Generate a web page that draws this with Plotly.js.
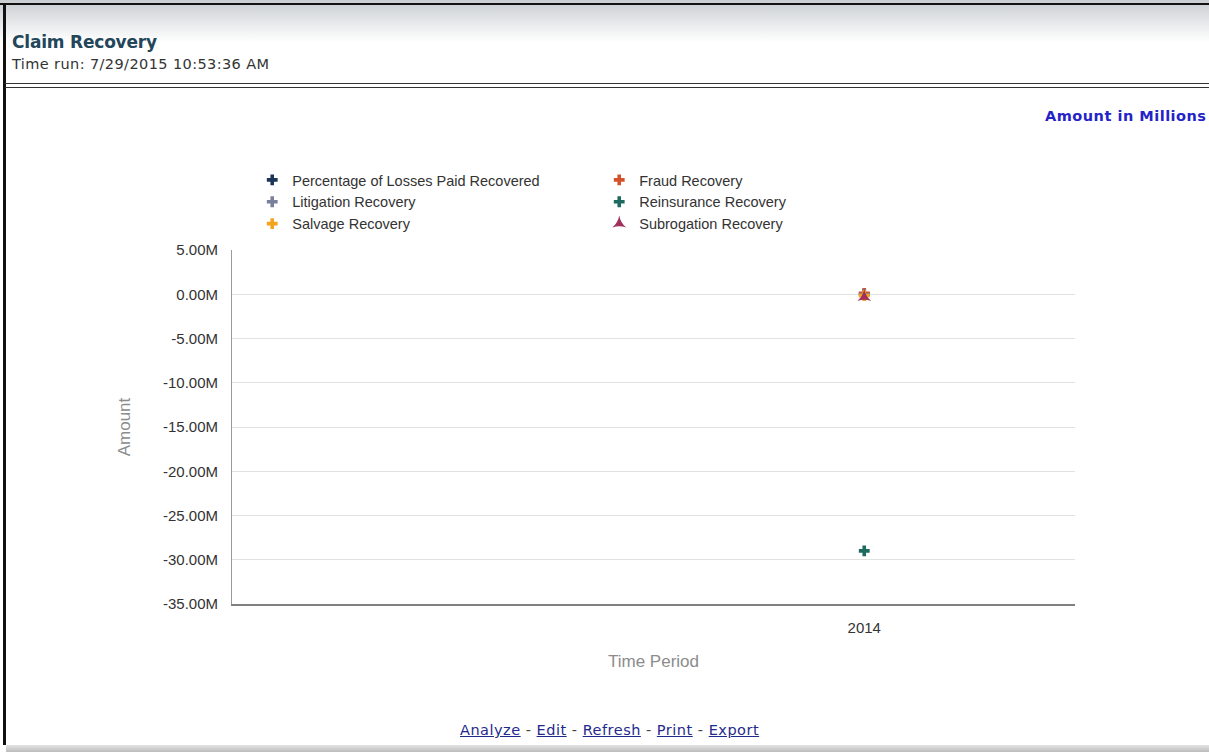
<!DOCTYPE html>
<html>
<head>
<meta charset="utf-8">
<script src="https://cdn.plot.ly/plotly-3.0.1.min.js"></script>
<style>
  html, body { margin:0; padding:0; background:#fff; width:1209px; height:752px; overflow:hidden; }
  #page { position:relative; width:1209px; height:752px; }
  #hdrgrad { position:absolute; left:0; top:0; width:1209px; height:42px; background:linear-gradient(#c9cdd1, #ffffff); }
  #topline { position:absolute; left:0; top:3px; width:1209px; height:2px; background:#111; }
  #leftline { position:absolute; left:3px; top:3px; width:3px; height:742px; background:#111; }
  #title { position:absolute; left:12px; top:32px; font-family:"DejaVu Sans", sans-serif; font-weight:bold; font-size:17px; color:#23465a; letter-spacing:-0.2px; }
  #timerun { position:absolute; left:12px; top:56px; font-family:"DejaVu Sans", sans-serif; font-size:14.5px; color:#333; letter-spacing:0.4px; }
  #dbl1 { position:absolute; left:5px; top:83px; width:1204px; height:1px; background:#333; }
  #dbl2 { position:absolute; left:5px; top:87px; width:1204px; height:1px; background:#333; }
  #units { position:absolute; left:1045px; top:108px; font-family:"DejaVu Sans", sans-serif; font-weight:bold; font-size:14.5px; color:#2323c8; white-space:nowrap; letter-spacing:0.5px; }
  #links { position:absolute; left:460px; top:722px; font-family:"DejaVu Sans", sans-serif; font-size:14.5px; color:#444; white-space:nowrap; letter-spacing:0.5px; }
  #links a { color:#1f2a8c; text-decoration:underline; }
  #footbar { position:absolute; left:6px; top:745px; width:1203px; height:7px; background:linear-gradient(#e4e4e4, #bcbcbc); }
  #chart { position:absolute; left:0; top:0; width:1209px; height:752px; }
</style>
</head>
<body>
<div id="page">
  <div id="hdrgrad"></div>
  <div id="topline"></div>
  <div id="leftline"></div>
  <div id="title">Claim Recovery</div>
  <div id="timerun">Time run: 7/29/2015 10:53:36 AM</div>
  <div id="dbl1"></div>
  <div id="dbl2"></div>
  <div id="chart"></div>
  <div id="units">Amount in Millions</div>
  <div id="links"><a>Analyze</a> - <a>Edit</a> - <a>Refresh</a> - <a>Print</a> - <a>Export</a></div>
  <div id="footbar"></div>
</div>
<script>
// ---- data (values in millions) ----
const periods = ["2014"];
const pctLossesPaidRecovered = [0.05];
const fraudRecovery = [0.1];
const litigationRecovery = [-0.05];
const reinsuranceRecovery = [-29.0];
const salvageRecovery = [-0.15];
const subrogationRecovery = [-0.3];

const yTickVals = [5, 0, -5, -10, -15, -20, -25, -30, -35];
const yTickLabels = ["5.00M", "0.00M", "-5.00M", "-10.00M", "-15.00M", "-20.00M", "-25.00M", "-30.00M", "-35.00M"];

const FONT = "Liberation Sans, Arial, sans-serif";

function series(name, ys, color, symbol, size) {
  return {
    type: "scatter", mode: "markers", name: name,
    x: periods, y: ys,
    marker: { color: color, symbol: symbol, size: size, line: { width: 0 } }
  };
}

const traces = [
  series("Percentage of Losses Paid Recovered", pctLossesPaidRecovered, "#1c3557", "cross", 9),
  series("Fraud Recovery", fraudRecovery, "#d4522a", "cross", 9),
  series("Litigation Recovery", litigationRecovery, "#7a7f9e", "cross", 9),
  series("Reinsurance Recovery", reinsuranceRecovery, "#1d6b60", "cross", 9),
  series("Salvage Recovery", salvageRecovery, "#f3a41c", "cross", 9),
  series("Subrogation Recovery", subrogationRecovery, "#a0305c", "star-triangle-up", 10)
];

const layout = {
  width: 1209, height: 752,
  margin: { l: 232, r: 134, t: 250, b: 148 },
  paper_bgcolor: "rgba(0,0,0,0)",
  plot_bgcolor: "rgba(0,0,0,0)",
  font: { family: FONT, color: "#333" },
  showlegend: true,
  legend: {
    orientation: "h",
    x: 0.024, xanchor: "left",
    y: 1.243, yanchor: "top",
    entrywidth: 302, entrywidthmode: "pixels",
    itemwidth: 30,
    tracegroupgap: 0,
    font: { family: FONT, size: 14.5, color: "#333" },
    bgcolor: "rgba(0,0,0,0)"
  },
  xaxis: {
    type: "category",
    range: [-1.5, 0.5],
    showgrid: false,
    zeroline: false,
    showline: true, linecolor: "#808080", linewidth: 1.5,
    ticks: "", ticklabelstandoff: 9,
    tickfont: { family: FONT, size: 15, color: "#333" },
    title: { text: "Time Period", font: { family: FONT, size: 17, color: "#8c8c8c" }, standoff: 20 },
    fixedrange: true
  },
  yaxis: {
    range: [-35, 5],
    tickvals: yTickVals,
    ticktext: yTickLabels,
    showgrid: true, gridcolor: "#e1e1e1", gridwidth: 1,
    zeroline: false,
    showline: true, linecolor: "#9a9a9a", linewidth: 1,
    ticks: "", ticklabelstandoff: 10,
    tickfont: { family: FONT, size: 15, color: "#333" },
    title: { text: "Amount", font: { family: FONT, size: 17, color: "#8c8c8c" }, standoff: 28 },
    fixedrange: true
  }
};

Plotly.newPlot("chart", traces, layout, { displayModeBar: false, staticPlot: true });
</script>
</body>
</html>
